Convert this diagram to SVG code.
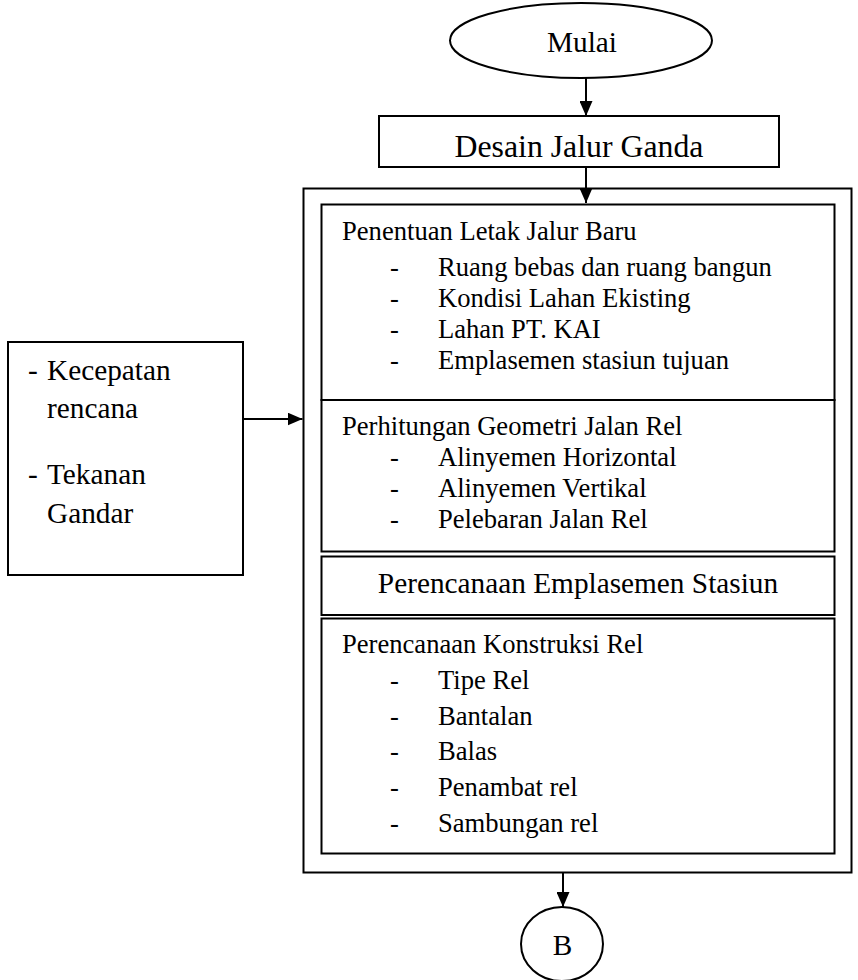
<svg xmlns="http://www.w3.org/2000/svg" width="858" height="980" viewBox="0 0 858 980">
<defs>
<style>
.s{fill:#fff;stroke:#000;stroke-width:2}
.c{fill:none;stroke:#000;stroke-width:2}
text{font-family:"Liberation Serif","Times New Roman",serif;fill:#000}
.t22{font-size:29.3px}
.t20{font-size:26.6px}
.t24{font-size:31.8px}
.m{text-anchor:middle}
</style>
<marker id="ah" viewBox="0 0 15 13" refX="15" refY="6.5" markerWidth="15" markerHeight="13" markerUnits="userSpaceOnUse" orient="auto">
<path d="M0,0 L15,6.5 L0,13 z" fill="#000"/>
</marker>
</defs>
<rect width="858" height="980" fill="#fff"/>

<g id="mulai">
<ellipse class="s" cx="581" cy="40.5" rx="131" ry="37.5"/>
<text class="t22 m" x="582" y="51.5">Mulai</text>
</g>

<g id="desain">
<rect class="s" x="379" y="116" width="400" height="51"/>
<text class="t24 m" x="579" y="156.5">Desain Jalur Ganda</text>
</g>

<g id="outer">
<rect class="s" x="303.5" y="188.5" width="548" height="684"/>
</g>

<g id="penentuan">
<rect class="s" x="321.5" y="204.5" width="513" height="195.5"/>
<text class="t20" x="342" y="240">Penentuan Letak Jalur Baru</text>
<text class="t20" x="390" y="275.5">-</text><text class="t20" x="438" y="275.5">Ruang bebas dan ruang bangun</text>
<text class="t20" x="390" y="306.5">-</text><text class="t20" x="438" y="306.5">Kondisi Lahan Ekisting</text>
<text class="t20" x="390" y="337.5">-</text><text class="t20" x="438" y="337.5">Lahan PT. KAI</text>
<text class="t20" x="390" y="369">-</text><text class="t20" x="438" y="369">Emplasemen stasiun tujuan</text>
</g>

<g id="perhitungan">
<rect class="s" x="321.5" y="400" width="513" height="151.5"/>
<text class="t20" x="342" y="435">Perhitungan Geometri Jalan Rel</text>
<text class="t20" x="390" y="465.5">-</text><text class="t20" x="438" y="465.5">Alinyemen Horizontal</text>
<text class="t20" x="390" y="496.5">-</text><text class="t20" x="438" y="496.5">Alinyemen Vertikal</text>
<text class="t20" x="390" y="528">-</text><text class="t20" x="438" y="528">Pelebaran Jalan Rel</text>
</g>

<g id="emplasemen">
<rect class="s" x="321.5" y="556.5" width="513" height="58.5"/>
<text class="t22 m" x="578" y="593.3">Perencanaan Emplasemen Stasiun</text>
</g>

<g id="konstruksi">
<rect class="s" x="321.5" y="618.5" width="513" height="235"/>
<text class="t20" x="342" y="653.3">Perencanaan Konstruksi Rel</text>
<text class="t20" x="390" y="689.3">-</text><text class="t20" x="438" y="689.3">Tipe Rel</text>
<text class="t20" x="390" y="725">-</text><text class="t20" x="438" y="725">Bantalan</text>
<text class="t20" x="390" y="760">-</text><text class="t20" x="438" y="760">Balas</text>
<text class="t20" x="390" y="796">-</text><text class="t20" x="438" y="796">Penambat rel</text>
<text class="t20" x="390" y="831.7">-</text><text class="t20" x="438" y="831.7">Sambungan rel</text>
</g>

<g id="input">
<rect class="s" x="8" y="342" width="235" height="233"/>
<text class="t22" x="28" y="380">-</text><text class="t22" x="47" y="380">Kecepatan</text>
<text class="t22" x="47" y="418">rencana</text>
<text class="t22" x="28" y="484">-</text><text class="t22" x="47" y="484">Tekanan</text>
<text class="t22" x="47" y="523">Gandar</text>
</g>

<g id="B">
<ellipse class="s" cx="562" cy="944" rx="41" ry="37"/>
<text class="t22 m" x="562.5" y="955">B</text>
</g>

<g id="connectors">
<line class="c" x1="586" y1="78" x2="586" y2="116" marker-end="url(#ah)"/>
<line class="c" x1="586" y1="167" x2="586" y2="203" marker-end="url(#ah)"/>
<line class="c" x1="243" y1="419" x2="302.5" y2="419" marker-end="url(#ah)"/>
<line class="c" x1="563" y1="873" x2="563" y2="907" marker-end="url(#ah)"/>
</g>
</svg>
